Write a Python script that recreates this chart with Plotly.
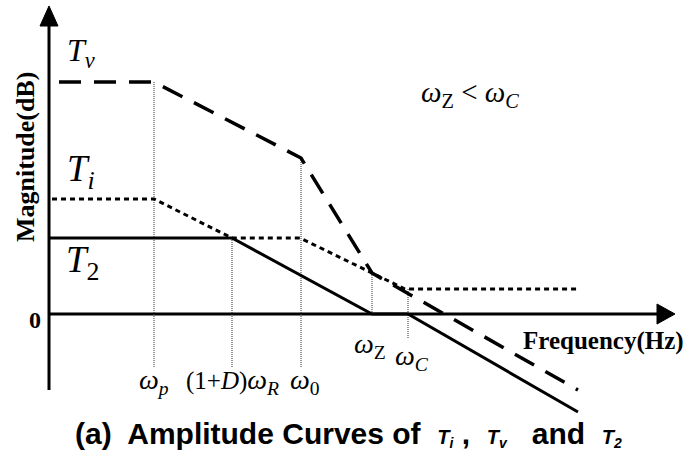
import plotly.graph_objects as go

# ---- data (frequency units measured from the origin, magnitude units above 0 dB) ----
Tv_freq = [10, 105, 252, 323, 529]
Tv_mag = [232, 232, 156, 41, -76]

Ti_freq = [3, 105, 183, 251, 356, 529]
Ti_mag = [115, 115, 76, 76, 25, 25]

T2_freq = [0, 183, 323, 359, 529]
T2_mag = [76, 76, 0, 0, -98]

# guide lines: frequency, top magnitude, bottom magnitude
guide_freq = [105, 183, 252, 323, 359]
guide_top = [232, 76, 156, 41, 25]
guide_bot = [-54, -54, -54, 0, -24]

# tick labels under the axis
tick_labels = ["<i>ω<sub>p</sub></i>",
               "<span style='font-size:25px'>(1+<i>D</i>)</span><i>ω<sub>R</sub></i>",
               "<i>ω</i><sub>0</sub>",
               "<i>ω</i><sub>Z</sub>", "<i>ω<sub>C</sub></i>"]
tick_label_freq = [105, 183, 256, 321, 363]
tick_label_mag = [-67, -67, -67, -31, -43]

# axis extents
x_axis_end = 626
y_axis_top = 308
y_axis_bottom = -76

SERIF = "Liberation Serif, Times New Roman, serif"
SANS = "Liberation Sans, Arial, sans-serif"

fig = go.Figure()

# axes
fig.add_trace(go.Scatter(x=[0, x_axis_end - 10], y=[0, 0], mode="lines",
                         line=dict(color="black", width=3), hoverinfo="skip"))
fig.add_trace(go.Scatter(x=[0, 0], y=[y_axis_bottom, y_axis_top - 10], mode="lines",
                         line=dict(color="black", width=3), hoverinfo="skip"))
# arrow heads
fig.add_trace(go.Scatter(x=[x_axis_end, x_axis_end - 18, x_axis_end - 18, x_axis_end],
                         y=[0, 10, -10, 0], mode="lines", fill="toself",
                         fillcolor="black", line=dict(color="black", width=1), hoverinfo="skip"))
fig.add_trace(go.Scatter(x=[0, -9, 9, 0], y=[y_axis_top, y_axis_top - 20, y_axis_top - 20, y_axis_top],
                         mode="lines", fill="toself", fillcolor="black",
                         line=dict(color="black", width=1), hoverinfo="skip"))

# guide lines
for f, t, b in zip(guide_freq, guide_top, guide_bot):
    fig.add_trace(go.Scatter(x=[f, f], y=[t, b], mode="lines",
                             line=dict(color="#333333", width=1, dash="1px,1px"), hoverinfo="skip"))

# curves
fig.add_trace(go.Scatter(x=T2_freq, y=T2_mag, mode="lines", line=dict(color="black", width=3)))
fig.add_trace(go.Scatter(x=Ti_freq, y=Ti_mag, mode="lines",
                         line=dict(color="black", width=3, dash="5px,4px")))
fig.add_trace(go.Scatter(x=Tv_freq, y=Tv_mag, mode="lines",
                         line=dict(color="black", width=3.5, dash="22px,13px")))

ann = []
def text(x, y, s, size, family=SERIF, xanchor="center", yanchor="middle", textangle=0):
    ann.append(dict(x=x, y=y, text=s, showarrow=False, xanchor=xanchor, yanchor=yanchor,
                    font=dict(family=family, size=size, color="black"), textangle=textangle))

text(16, 262, "<i>T<sub>v</sub></i>", 32, xanchor="left")
text(16, 143, "<i>T<sub>i</sub></i>", 37, xanchor="left")
text(15, 52, "<i>T</i><sub>2</sub>", 37, xanchor="left")
text(-14, -6, "<b>0</b>", 24)
text(-24, 157, "<b>Magnitude(dB)</b>", 26, textangle=-90)
text(554, -27, "<b>Frequency(Hz)</b>", 25)
text(421, 220, "<i>ω</i><sub>Z</sub> &lt; <i>ω<sub>C</sub></i>", 29)
for s, f, m in zip(tick_labels, tick_label_freq, tick_label_mag):
    text(f, m, s, 28)
text(299, -120,
     "<b>(a)  Amplitude Curves of  <i><span style='font-size:20px'>T<sub>i</sub></span></i> ,  "
     "<i><span style='font-size:20px'>T<sub>v</sub></span></i>   and  "
     "<i><span style='font-size:20px'>T<sub>2</sub></span></i></b>", 30, family=SANS)

fig.update_layout(
    width=685, height=456, margin=dict(l=0, r=0, t=0, b=0),
    paper_bgcolor="white", plot_bgcolor="white", showlegend=False,
    xaxis=dict(range=[-49, 636], visible=False, fixedrange=True),
    yaxis=dict(range=[-142, 314], visible=False, fixedrange=True),
    annotations=ann,
)
fig.write_html("out.html")
